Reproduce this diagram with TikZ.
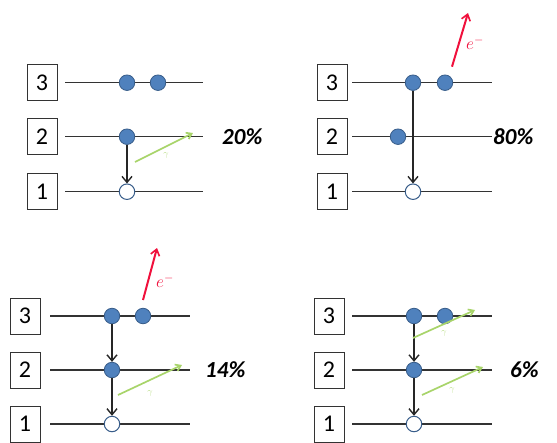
\documentclass[tikz,border=0pt]{standalone}
\usepackage{fontspec}
\newfontfamily\calib{Carlito}
\usetikzlibrary{arrows.meta}
\definecolor{dotfill}{HTML}{4F81BD}
\definecolor{dotline}{HTML}{385D8A}
\definecolor{gam}{HTML}{A8D46A}
\definecolor{elec}{HTML}{F0103C}
\tikzset{
  lvl/.style={line width=1.4pt, black!80},
  lbox/.style={draw=black!80, line width=0.8pt, minimum width=30, minimum height=36, inner sep=0pt, font=\calib\fontsize{24}{24}\selectfont},
  full/.style={circle, fill=dotfill, draw=dotline, line width=0.8pt, minimum size=15.5, inner sep=0pt},
  hole/.style={circle, fill=white, draw=dotline, line width=1pt, minimum size=15.5, inner sep=0pt},
  decay/.style={line width=1.5pt, black!85, -{Straight Barb[length=6pt,width=10pt,line width=1.4pt]}},
  gray/.style={line width=1.7pt, gam, -{Straight Barb[length=5pt,width=7pt]}},
  eout/.style={line width=2pt, elec, -{Straight Barb[length=6pt,width=9pt,line width=1.6pt]}},
  pct/.style={font=\calib\bfseries\itshape\fontsize{23}{23}\selectfont, anchor=west, inner sep=0pt},
  glab/.style={font=\fontsize{9}{9}\selectfont, text=gam!80},
  elab/.style={font=\fontsize{17}{17}\selectfont, text=elec}
}
\begin{document}
\begin{tikzpicture}[x=1pt,y=-1pt]
\useasboundingbox (0,0) rectangle (557,442);
% ---------- Panel 1 ----------
\node[lbox] (a3) at (42,82.7) {3};
\node[lbox] (a2) at (42,136.7) {2};
\node[lbox] (a1) at (42,191.7) {1};
\coordinate (a3l) at (65,82.7); \coordinate (a3r) at (203,82.7);
\coordinate (a2l) at (65,136.7); \coordinate (a2r) at (203,136.7);
\coordinate (a1l) at (65,191.7); \coordinate (a1r) at (203,191.7);
\draw[lvl] (a3l) -- (a3r);
\draw[lvl] (a2l) -- (a2r);
\draw[lvl] (a1l) -- (a1r);
\node[full] (a3d1) at (127,82.7) {};
\node[full] (a3d2) at (158,82.7) {};
\node[full] (a2d) at (127,136.7) {};
\node[hole] (a1h) at (127,191.7) {};
\draw[decay] (a2d) -- (a1h);
\coordinate (ag1s) at (135,162); \coordinate (ag1e) at (193,133);
\draw[gray] (ag1s) -- (ag1e);
\node[glab] (ag1l) at (166,155) {$\gamma$};
\node[pct] (ap) at (222,137) {20\%};
% ---------- Panel 2 ----------
\node[lbox] (b3) at (332,82.7) {3};
\node[lbox] (b2) at (332,136.7) {2};
\node[lbox] (b1) at (332,191.7) {1};
\coordinate (b3l) at (352,82.7); \coordinate (b3r) at (492,82.7);
\coordinate (b2l) at (352,136.7); \coordinate (b2r) at (492,136.7);
\coordinate (b1l) at (352,191.7); \coordinate (b1r) at (492,191.7);
\draw[lvl] (b3l) -- (b3r);
\draw[lvl] (b2l) -- (b2r);
\draw[lvl] (b1l) -- (b1r);
\node[full] (b3d1) at (413,82.7) {};
\node[full] (b3d2) at (445,82.7) {};
\node[full] (b2d) at (398,136.7) {};
\node[hole] (b1h) at (413,191.7) {};
\draw[decay] (b3d1) -- (b1h);
\coordinate (be) at (468,13);
\draw[eout] ([shift={(7,-16)}]b3d2.center) -- (be);
\node[elab] (bel) at (475,43) {$e^{-}$};
\node[pct] (bp) at (493,137) {80\%};
% ---------- Panel 3 ----------
\node[lbox] (c3) at (25,316) {3};
\node[lbox] (c2) at (25,370) {2};
\node[lbox] (c1) at (25,424) {1};
\coordinate (c3l) at (50,316); \coordinate (c3r) at (190,316);
\coordinate (c2l) at (50,370); \coordinate (c2r) at (190,370);
\coordinate (c1l) at (50,424); \coordinate (c1r) at (190,424);
\draw[lvl] (c3l) -- (c3r);
\draw[lvl] (c2l) -- (c2r);
\draw[lvl] (c1l) -- (c1r);
\node[full] (c3d1) at (112,316) {};
\node[full] (c3d2) at (143,316) {};
\node[full] (c2d) at (112,370) {};
\node[hole] (c1h) at (112,424) {};
\draw[decay] (c3d1) -- (c2d);
\draw[decay] (c2d) -- (c1h);
\coordinate (ce) at (157,248);
\draw[eout] ([shift={(0,-16)}]c3d2.center) -- (ce);
\node[elab] (cel) at (165,281) {$e^{-}$};
\coordinate (cg1s) at (118,395); \coordinate (cg1e) at (182,365);
\draw[gray] (cg1s) -- (cg1e);
\node[glab] (cg1l) at (150,393) {$\gamma$};
\node[pct] (cp) at (205,370) {14\%};
% ---------- Panel 4 ----------
\node[lbox] (d3) at (329,316) {3};
\node[lbox] (d2) at (329,370) {2};
\node[lbox] (d1) at (329,424) {1};
\coordinate (d3l) at (352,316); \coordinate (d3r) at (492,316);
\coordinate (d2l) at (352,370); \coordinate (d2r) at (492,370);
\coordinate (d1l) at (352,424); \coordinate (d1r) at (492,424);
\draw[lvl] (d3l) -- (d3r);
\draw[lvl] (d2l) -- (d2r);
\draw[lvl] (d1l) -- (d1r);
\node[full] (d3d1) at (414,316) {};
\node[full] (d3d2) at (445,316) {};
\node[full] (d2d) at (414,370) {};
\node[hole] (d1h) at (414,424) {};
\draw[decay] (d3d1) -- (d2d);
\draw[decay] (d2d) -- (d1h);
\coordinate (dg1s) at (413,338); \coordinate (dg1e) at (475,310);
\draw[gray] (dg1s) -- (dg1e);
\node[glab] (dg1l) at (444,333) {$\gamma$};
\coordinate (dg2s) at (422,395); \coordinate (dg2e) at (483,367);
\draw[gray] (dg2s) -- (dg2e);
\node[glab] (dg2l) at (452,390) {$\gamma$};
\node[pct] (dp) at (510,370) {6\%};
\end{tikzpicture}
\end{document}
